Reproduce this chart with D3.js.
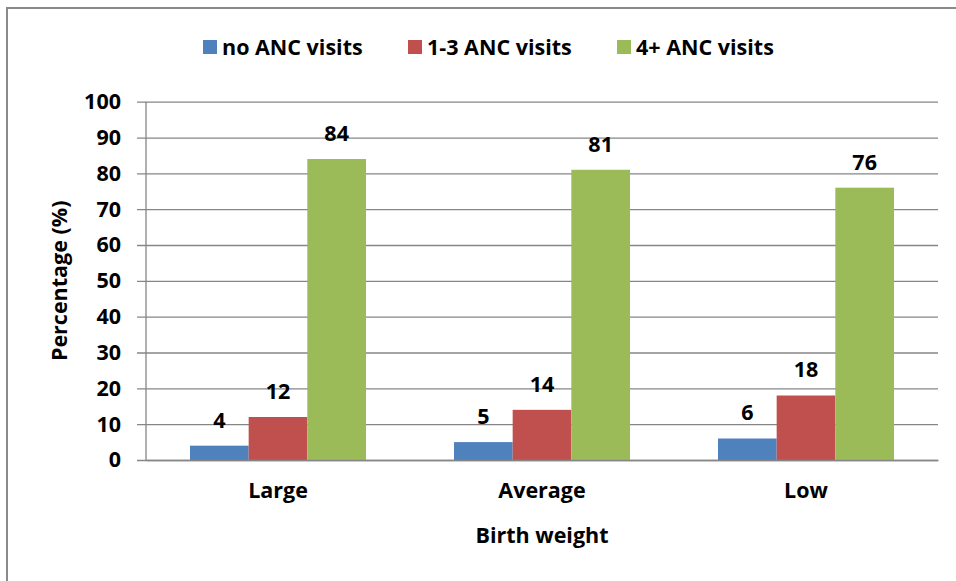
<!DOCTYPE html>
<html>
<head>
<meta charset="utf-8">
<script src="https://cdn.jsdelivr.net/npm/d3@7"></script>
<style>
  body { margin: 0; background: #fff; }
  svg text { font-family: "Open Sans", Lato, sans-serif; font-weight: bold; fill: #000; }
</style>
</head>
<body>
<svg id="chart" width="956" height="581"></svg>
<script>
// categories and series
var categories = ["Large", "Average", "Low"];
var seriesNames = ["no ANC visits", "1-3 ANC visits", "4+ ANC visits"];
var noVisits = [4, 5, 6];
var oneToThree = [12, 14, 18];
var fourPlus = [84, 81, 76];
var yTicks = [0, 10, 20, 30, 40, 50, 60, 70, 80, 90, 100];
var colors = ["#4F81BD", "#C0504D", "#9BBB59"];

var seriesValues = [noVisits, oneToThree, fourPlus];

var width = 956, height = 581;
var margin = {top: 101.7, right: 18, bottom: 121, left: 146};
var plotW = width - margin.left - margin.right;
var plotH = height - margin.top - margin.bottom;
var fs = 21.5;

var svg = d3.select("#chart");

// outer frame (only top and left edge fall inside the picture)
svg.append("rect")
    .attr("x", 7).attr("y", 8)
    .attr("width", 980).attr("height", 600)
    .attr("fill", "none")
    .attr("stroke", "#8a8a8a")
    .attr("stroke-width", 2);

var g = svg.append("g")
    .attr("transform", "translate(" + margin.left + "," + margin.top + ")");

var xScale = d3.scaleBand()
    .domain(categories)
    .range([0, plotW])
    .paddingInner(0)
    .paddingOuter(0);

var xInner = d3.scaleBand()
    .domain(seriesNames)
    .range([0, xScale.bandwidth()])
    .paddingInner(0)
    .paddingOuter(0.75);

var yScale = d3.scaleLinear()
    .domain([0, 100])
    .range([plotH, 0]);

// gridlines plus the little ticks left of the axis
g.append("g")
    .attr("class", "grid")
    .attr("transform", "translate(-9,0)")
    .call(d3.axisRight(yScale).tickValues(yTicks).tickSize(plotW + 9).tickFormat(""))
    .call(function (s) { s.select(".domain").remove(); })
    .selectAll("line")
    .attr("stroke", "#868686")
    .attr("stroke-width", 1.3);

// y tick labels
g.append("g")
    .attr("class", "y axis")
    .call(d3.axisLeft(yScale).tickValues(yTicks).tickSize(0).tickPadding(25))
    .call(function (s) { s.select(".domain").remove(); })
    .selectAll("text")
    .attr("font-size", fs);

// bars
var groups = g.selectAll(".cat")
    .data(categories)
    .enter().append("g")
    .attr("class", "cat")
    .attr("transform", function (d) { return "translate(" + xScale(d) + ",0)"; });

groups.selectAll("rect")
    .data(function (d, i) {
        return seriesNames.map(function (s, j) { return {series: s, idx: j, value: seriesValues[j][i]}; });
    })
    .enter().append("rect")
    .attr("x", function (d) { return xInner(d.series); })
    .attr("width", xInner.bandwidth())
    .attr("y", function (d) { return yScale(d.value); })
    .attr("height", function (d) { return plotH - yScale(d.value); })
    .attr("fill", function (d) { return colors[d.idx]; });

// value labels
groups.selectAll(".val")
    .data(function (d, i) {
        return seriesNames.map(function (s, j) { return {series: s, value: seriesValues[j][i]}; });
    })
    .enter().append("text")
    .attr("class", "val")
    .attr("x", function (d) { return xInner(d.series) + xInner.bandwidth() / 2; })
    .attr("y", function (d) { return yScale(d.value) - 18; })
    .attr("text-anchor", "middle")
    .attr("font-size", fs)
    .text(function (d) { return d.value; });

// y axis line
g.append("line")
    .attr("x1", 0).attr("x2", 0)
    .attr("y1", 0).attr("y2", plotH)
    .attr("stroke", "#868686")
    .attr("stroke-width", 1.3);

// x axis labels
g.append("g")
    .attr("class", "x axis")
    .attr("transform", "translate(0," + plotH + ")")
    .call(d3.axisBottom(xScale).tickSize(0).tickPadding(23))
    .call(function (s) { s.select(".domain").attr("stroke", "#868686").attr("stroke-width", 1.3); })
    .selectAll("text")
    .attr("font-size", fs);

// axis titles
svg.append("text")
    .attr("x", margin.left + plotW / 2)
    .attr("y", 543)
    .attr("text-anchor", "middle")
    .attr("font-size", fs)
    .text("Birth weight");

svg.append("text")
    .attr("transform", "translate(67," + (margin.top + plotH / 2) + ") rotate(-90)")
    .attr("text-anchor", "middle")
    .attr("font-size", fs)
    .text("Percentage (%)");

// legend
var legendX = [203, 408, 617];
var legend = svg.append("g").attr("class", "legend");
seriesNames.forEach(function (name, i) {
    legend.append("rect")
        .attr("x", legendX[i]).attr("y", 40)
        .attr("width", 14).attr("height", 14)
        .attr("fill", colors[i]);
    legend.append("text")
        .attr("x", legendX[i] + 19)
        .attr("y", 55)
        .attr("font-size", fs)
        .text(name);
});
</script>
</body>
</html>
